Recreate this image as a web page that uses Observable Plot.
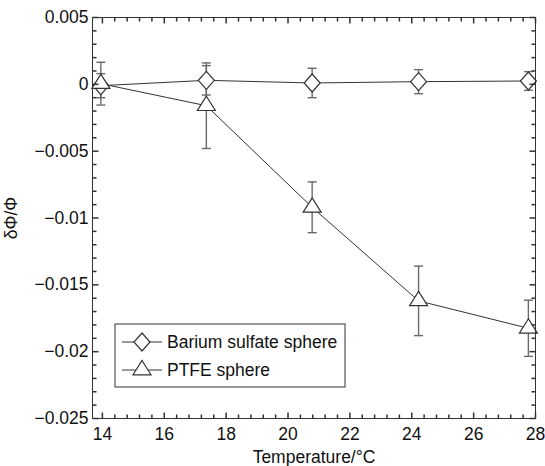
<!DOCTYPE html>
<html>
<head>
<meta charset="utf-8">
<script src="https://cdn.jsdelivr.net/npm/d3@7"></script>
<script src="https://cdn.jsdelivr.net/npm/@observablehq/plot@0.6"></script>
<style>
  html, body { margin: 0; padding: 0; background: #fff; }
</style>
</head>
<body>
<div id="chart"></div>
<script>
// ---- data ----
const temps      = [13.95, 17.36, 20.78, 24.22, 27.77];
const bariumVal  = [-0.0001, 0.0003, 0.0001, 0.0002, 0.00025];
const bariumErr  = [0.0009, 0.0011, 0.0011, 0.0009, 0.0007];
const ptfeVal    = [0.00005, -0.0016, -0.0092, -0.0162, -0.01825];
const ptfeErr    = [0.0016, 0.0032, 0.0019, 0.0026, 0.0021];
const seriesNames = ["Barium sulfate sphere", "PTFE sphere"];
const xMajor = [14, 16, 18, 20, 22, 24, 26, 28];
const xMinor = d3.range(14, 28.001, 0.4).map(v => +v.toFixed(2)).filter(v => !xMajor.includes(v));
const yMajor = [0.005, 0, -0.005, -0.01, -0.015, -0.02, -0.025];
const yMinor = d3.range(-25, 6, 1).map(v => v / 1000).filter(v => !yMajor.some(m => Math.abs(m - v) < 1e-9));

const barium = temps.map((t, i) => ({t, v: bariumVal[i], e: bariumErr[i]}));
const ptfe   = temps.map((t, i) => ({t, v: ptfeVal[i], e: ptfeErr[i]}));

// ---- custom symbols ----
const diamondSym = {draw(c) { c.moveTo(0, -9); c.lineTo(8, 0); c.lineTo(0, 9); c.lineTo(-8, 0); c.closePath(); }};
const triSym = {draw(c) { c.moveTo(0, -9.5); c.lineTo(9, 4.8); c.lineTo(-9, 4.8); c.closePath(); }};
const capSym = {draw(c) { c.moveTo(-4.5, 0); c.lineTo(4.5, 0); }};
const tick = (dx, dy) => ({draw(c) { c.moveTo(0, 0); c.lineTo(dx, dy); }});

const fmtY = d => d === 0 ? "0" : String(d).replace("-", "\u2212");

const lineColor = "#333";
const errColor = "#6a6a6a";
const frameColor = "#333";

const errMarks = data => [
  Plot.ruleX(data, {x: "t", y1: d => d.v - d.e, y2: d => d.v + d.e, stroke: errColor, strokeWidth: 1.4}),
  Plot.dot(data, {x: "t", y: d => d.v - d.e, symbol: capSym, stroke: errColor, strokeWidth: 1.4, fill: "none"}),
  Plot.dot(data, {x: "t", y: d => d.v + d.e, symbol: capSym, stroke: errColor, strokeWidth: 1.4, fill: "none"})
];

const tickMarks = [
  Plot.dot(xMajor, {x: d => d, frameAnchor: "bottom", symbol: tick(0, -6), stroke: frameColor, fill: "none"}),
  Plot.dot(xMinor, {x: d => d, frameAnchor: "bottom", symbol: tick(0, -4), stroke: frameColor, fill: "none"}),
  Plot.dot(xMajor, {x: d => d, frameAnchor: "top", symbol: tick(0, 6), stroke: frameColor, fill: "none"}),
  Plot.dot(xMinor, {x: d => d, frameAnchor: "top", symbol: tick(0, 4), stroke: frameColor, fill: "none"}),
  Plot.dot(yMajor, {y: d => d, frameAnchor: "left", symbol: tick(6, 0), stroke: frameColor, fill: "none"}),
  Plot.dot(yMinor, {y: d => d, frameAnchor: "left", symbol: tick(4, 0), stroke: frameColor, fill: "none"}),
  Plot.dot(yMajor, {y: d => d, frameAnchor: "right", symbol: tick(-6, 0), stroke: frameColor, fill: "none"}),
  Plot.dot(yMinor, {y: d => d, frameAnchor: "right", symbol: tick(-4, 0), stroke: frameColor, fill: "none"})
];

const chart = Plot.plot({
  width: 545,
  height: 466,
  marginLeft: 92,
  marginRight: 10,
  marginTop: 17,
  marginBottom: 48,
  style: {fontFamily: "'Liberation Sans', Arial, Helvetica, sans-serif", fontSize: "17.5px", color: "#111", background: "#fff"},
  x: {domain: [13.68, 28]},
  y: {domain: [-0.025, 0.005]},
  marks: [
    Plot.axisX({ticks: xMajor, tickSize: 0, tickPadding: 9, tickFormat: d => String(d),
      label: "Temperature/\u00B0C", labelAnchor: "center", labelOffset: 44, labelArrow: "none"}),
    Plot.axisY({ticks: yMajor, tickSize: 0, tickPadding: 4, tickFormat: fmtY,
      label: "\u03B4\u03A6/\u03A6", labelAnchor: "center", labelOffset: 88, labelArrow: "none"}),
    ...errMarks(barium),
    ...errMarks(ptfe),
    Plot.line(barium, {x: "t", y: "v", stroke: lineColor, strokeWidth: 1}),
    Plot.line(ptfe, {x: "t", y: "v", stroke: lineColor, strokeWidth: 1}),
    Plot.dot(barium, {x: "t", y: "v", symbol: diamondSym, stroke: lineColor, strokeWidth: 1.2, fill: "white"}),
    Plot.dot(ptfe, {x: "t", y: "v", symbol: triSym, stroke: lineColor, strokeWidth: 1.2, fill: "white"}),
    ...tickMarks,
    Plot.frame({stroke: frameColor, strokeWidth: 1})
  ]
});

// ---- in-plot legend (MATLAB style box) ----
const svg = d3.select(chart);
const lg = svg.append("g").attr("class", "legend").attr("text-anchor", "start");
const lx = 115, ly = 324, lw = 230, lh = 63;
lg.append("rect").attr("x", lx).attr("y", ly).attr("width", lw).attr("height", lh)
  .attr("fill", "white").attr("stroke", frameColor).attr("stroke-width", 1);
const syms = [diamondSym, triSym];
seriesNames.forEach((name, i) => {
  const cy = ly + 18 + i * 28;
  lg.append("line").attr("x1", lx + 7).attr("x2", lx + 47).attr("y1", cy).attr("y2", cy)
    .attr("stroke", lineColor).attr("stroke-width", 1);
  lg.append("path").attr("d", d3.symbol(syms[i])()).attr("transform", `translate(${lx + 27},${cy})`)
    .attr("fill", "white").attr("stroke", lineColor).attr("stroke-width", 1.2);
  lg.append("text").attr("x", lx + 52).attr("y", cy).attr("dy", "0.35em")
    .attr("text-anchor", "start").attr("fill", "#111").text(name);
});

document.getElementById("chart").appendChild(chart);
</script>
</body>
</html>
